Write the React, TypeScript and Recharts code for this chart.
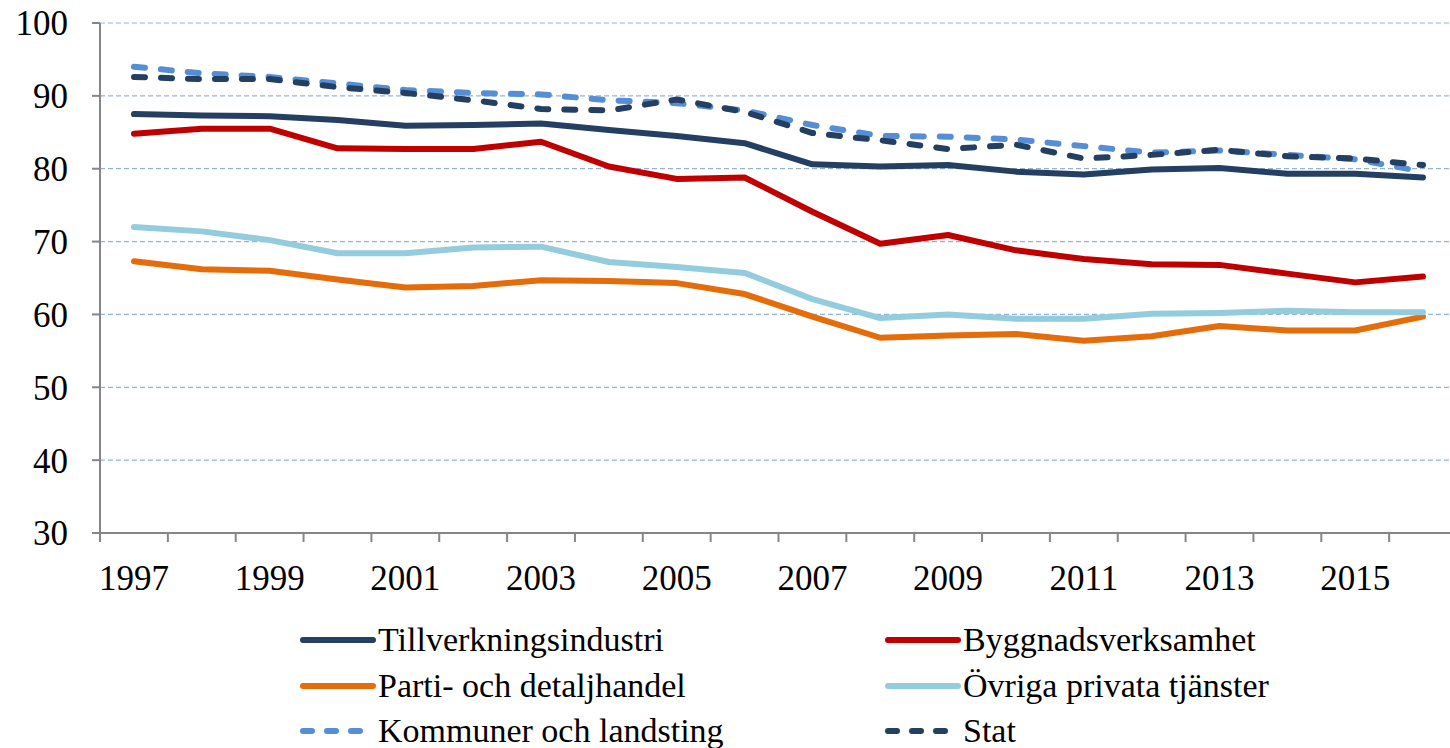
import React from "react";
import { LineChart, Line, XAxis, YAxis, CartesianGrid } from "recharts";

const years = ["1997","1998","1999","2000","2001","2002","2003","2004","2005","2006","2007","2008","2009","2010","2011","2012","2013","2014","2015","2016"];
const tillverkning = [87.5,87.3,87.2,86.7,85.9,86.0,86.2,85.3,84.5,83.5,80.6,80.3,80.5,79.6,79.2,79.9,80.1,79.3,79.3,78.8];
const bygg = [84.8,85.5,85.5,82.8,82.7,82.7,83.7,80.3,78.6,78.8,74.1,69.7,70.9,68.8,67.6,66.9,66.8,65.6,64.4,65.2];
const parti = [67.3,66.2,66.0,64.8,63.7,63.9,64.7,64.6,64.3,62.8,59.7,56.8,57.1,57.3,56.4,57.0,58.4,57.8,57.8,59.7];
const ovriga = [72.0,71.4,70.2,68.4,68.4,69.2,69.3,67.2,66.5,65.7,62.1,59.5,60.0,59.4,59.4,60.1,60.2,60.5,60.3,60.3];
const kommuner = [94.0,93.1,92.6,91.7,90.8,90.4,90.2,89.4,89.0,88.0,86.0,84.5,84.4,84.0,83.1,82.2,82.5,81.9,81.3,79.6];
const stat = [92.6,92.3,92.3,91.2,90.4,89.4,88.2,88.0,89.5,87.8,84.9,83.9,82.7,83.3,81.4,81.9,82.6,81.7,81.4,80.5];
const yTicks = [30,40,50,60,70,80,90,100];
const boundaryTicks = years.map((_, i) => i).concat([years.length]);

const series = [
  { key: "tillverkning", name: "Tillverkningsindustri", color: "#243F61", dashed: false, values: tillverkning },
  { key: "bygg", name: "Byggnadsverksamhet", color: "#C00000", dashed: false, values: bygg },
  { key: "parti", name: "Parti- och detaljhandel", color: "#E46C0A", dashed: false, values: parti },
  { key: "ovriga", name: "Övriga privata tjänster", color: "#93CDDD", dashed: false, values: ovriga },
  { key: "kommuner", name: "Kommuner och landsting", color: "#558ED5", dashed: true, values: kommuner },
  { key: "stat", name: "Stat", color: "#243F61", dashed: true, values: stat },
];

const data = years.map((year, i) => {
  const row: Record<string, any> = { year, slot: i + 0.5 };
  series.forEach((s) => { row[s.key] = s.values[i]; });
  return row;
});

const FONT = '"Liberation Serif", "Times New Roman", serif';
const AXIS = "#868686";

function LegendOverlay() {
  return (
    <div style={{ position: "absolute", left: 0, top: 617, width: 1450, height: 140 }}>
      {series.map((s, i) => {
        const col = i % 2;
        const row = Math.floor(i / 2);
        return (
          <div
            key={s.key}
            style={{
              position: "absolute",
              left: col === 0 ? 298 : 883,
              top: row * 45.5,
              height: 46,
              display: "flex",
              alignItems: "center",
              whiteSpace: "nowrap",
            }}
          >
            <svg width={80} height={12} style={{ display: "block" }}>
              <line
                x1={5}
                y1={6}
                x2={75}
                y2={6}
                stroke={s.color}
                strokeWidth={6}
                strokeLinecap="round"
                strokeDasharray={s.dashed ? "9 15" : undefined}
              />
            </svg>
            <span style={{ fontFamily: FONT, fontSize: 34, color: "#000", lineHeight: 1 }}>{s.name}</span>
          </div>
        );
      })}
    </div>
  );
}

export default function App() {
  return (
    <div style={{ position: "absolute", left: 0, top: 0, width: 1450, height: 748, overflow: "hidden", background: "#fff" }}>
      <LineChart width={1460} height={748} data={data} margin={{ top: 23, right: 3, left: 0, bottom: 154 }}>
        <CartesianGrid xAxisId="b" horizontal vertical={false} stroke="#95B3D7" strokeDasharray="5 3" strokeWidth={1.2} />
        <XAxis
          xAxisId="b"
          dataKey="year"
          interval={1}
          padding={{ left: 34, right: 34 }}
          tickLine={false}
          axisLine={false}
          tickSize={0}
          tickMargin={31}
          height={60}
          tick={{ fill: "#000", fontSize: 35, fontFamily: FONT }}
        />
        <XAxis
          xAxisId="a"
          type="number"
          dataKey="slot"
          domain={[0, years.length]}
          ticks={boundaryTicks}
          interval={0}
          allowDataOverflow
          height={1}
          tickSize={9}
          tickFormatter={() => ""}
          stroke={AXIS}
          axisLine={{ stroke: AXIS, strokeWidth: 2 }}
          tickLine={{ stroke: AXIS, strokeWidth: 2 }}
        />
        <YAxis
          domain={[30, 100]}
          ticks={yTicks}
          width={100}
          tickSize={8}
          tickMargin={24}
          interval={0}
          stroke={AXIS}
          axisLine={{ stroke: AXIS, strokeWidth: 2 }}
          tickLine={{ stroke: AXIS, strokeWidth: 2 }}
          tick={{ fill: "#000", fontSize: 35, fontFamily: FONT }}
        />
        {series.map((s) => (
          <Line
            key={s.key}
            xAxisId="b"
            type="linear"
            dataKey={s.key}
            name={s.name}
            stroke={s.color}
            strokeWidth={6}
            strokeLinecap="round"
            strokeLinejoin="round"
            strokeDasharray={s.dashed ? "11 16" : undefined}
            dot={false}
            activeDot={false}
            isAnimationActive={false}
          />
        ))}
      </LineChart>
      <LegendOverlay />
    </div>
  );
}
